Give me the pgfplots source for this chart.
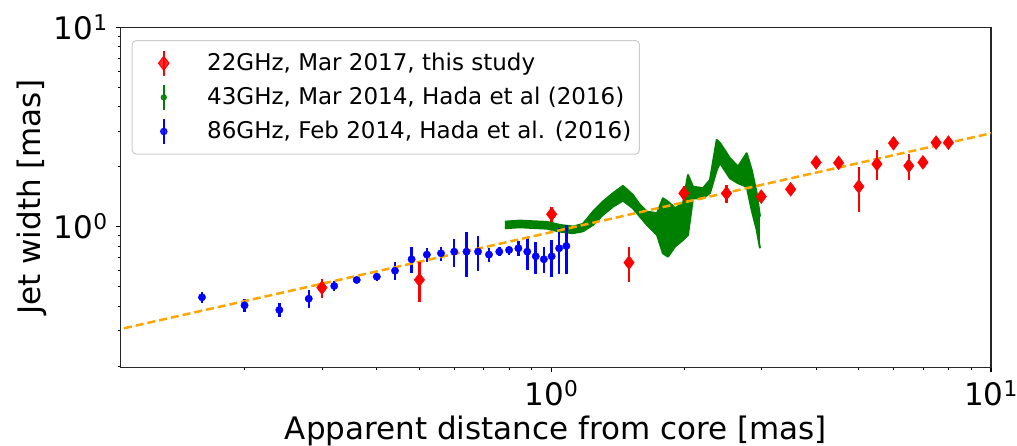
\documentclass[border=0pt]{standalone}
\usepackage{fontspec}
\setmainfont{DejaVu Sans}
\usepackage{pgfplots}
\pgfplotsset{compat=1.18}
\usepgfplotslibrary{fillbetween}
\usepackage{pgfplotstable}

\definecolor{mplred}{HTML}{FF0000}
\definecolor{mplblue}{HTML}{0000FF}
\definecolor{mplgreen}{HTML}{008000}
\definecolor{mplorange}{HTML}{FFA500}

% 22 GHz, this study
\pgfplotstableread{
x y e
0.3 0.494 0.055
0.5 0.541 0.12
1.0 1.154 0.10
1.5 0.660 0.13
2.0 1.47 0.13
2.5 1.47 0.15
3.0 1.415 0.07
3.5 1.54 0.07
4.0 2.10 0.10
4.5 2.09 0.09
5.0 1.59 0.40
5.5 2.06 0.35
6.0 2.62 0.12
6.5 2.02 0.30
7.0 2.10 0.10
7.5 2.64 0.12
8.0 2.64 0.09
}\redtab

% 86 GHz, Hada et al. (2016)
\pgfplotstableread{
x y e
0.16 0.442 0.03
0.20 0.403 0.03
0.24 0.382 0.03
0.28 0.435 0.045
0.32 0.504 0.03
0.36 0.540 0.02
0.40 0.561 0.025
0.44 0.601 0.06
0.48 0.686 0.10
0.52 0.724 0.06
0.56 0.735 0.06
0.60 0.749 0.12
0.64 0.749 0.19
0.68 0.749 0.15
0.72 0.724 0.06
0.76 0.749 0.04
0.80 0.764 0.04
0.84 0.779 0.07
0.88 0.749 0.14
0.92 0.710 0.13
0.96 0.686 0.10
1.00 0.710 0.15
1.04 0.779 0.20
1.08 0.800 0.22
}\bluetab

% 43 GHz, Hada et al. (2016): upper and lower edge of the band
\pgfplotstableread{
x up lo
0.783 1.059 0.982
0.847 1.072 0.993
0.906 1.064 0.985
0.976 1.056 0.977
1.044 1.020 0.944
1.118 1.000 0.927
1.178 1.032 0.948
1.242 1.189 1.020
1.308 1.335 1.145
1.379 1.471 1.260
1.453 1.600 1.351
1.531 1.442 1.237
1.589 1.285 1.122
1.648 1.189 1.020
1.737 1.167 0.909
1.792 1.388 0.735
1.840 1.335 0.707
1.909 1.237 0.794
1.991 1.310 0.858
2.043 1.817 0.909
2.097 1.587 1.388
2.210 1.558 1.388
2.293 1.715 1.476
2.375 2.723 1.925
2.416 2.630 2.087
2.546 2.204 1.749
2.656 2.000 1.651
2.779 2.335 1.587
2.853 1.925 1.213
2.929 1.471 0.963
2.980 1.122 0.779
}\greentab

% power-law fit
\pgfplotstableread{
x y
0.1 0.300
10 2.94
}\fittab

\begin{document}
\begin{tikzpicture}
\begin{axis}[
  scale only axis, width=870.3pt, height=340pt,
  xmode=log, ymode=log,
  xmin=0.1045, xmax=10, ymin=0.197, ymax=10,
  xtick={1,10}, xticklabels={10\textsuperscript{0},10\textsuperscript{1}},
  ytick={1,10}, yticklabels={10\textsuperscript{0},10\textsuperscript{1}},
  minor xtick={0.2,0.3,0.4,0.5,0.6,0.7,0.8,0.9,2,3,4,5,6,7,8,9},
  minor ytick={0.2,0.3,0.4,0.5,0.6,0.7,0.8,0.9,2,3,4,5,6,7,8,9},
  tick align=outside, tick pos=left,
  major tick length=4.9pt, minor tick length=2.8pt,
  major tick style={black, line width=1.1pt},
  minor tick style={black, line width=0.8pt},
  axis line style={line width=1.1pt, black!85},
  tick label style={font=\fontsize{31}{37}\selectfont, inner sep=0pt},
  xticklabel style={anchor=north, yshift=-8pt},
  yticklabel style={anchor=east, xshift=-8pt},
  label style={font=\fontsize{31}{37}\selectfont},
  xlabel={Apparent distance from core [mas]},
  ylabel={Jet width [mas]},
  xlabel style={at={(axis description cs:0.5,-0.2138)}, anchor=base},
  ylabel style={at={(axis description cs:-0.0927,0.5)}, anchor=base, rotate=0},
  legend cell align=left,
  legend style={at={(axis description cs:0.01264,0.9626)}, anchor=north west,
    draw=black!20, line width=1pt, rounded corners=4pt, fill=white, fill opacity=0.8, text opacity=1,
    inner xsep=8pt, inner ysep=9pt, row sep=6.6pt,
    font=\fontsize{23}{27}\selectfont,
    nodes={inner sep=0pt, text height=19.3pt, text depth=5pt}},
]
% 43 GHz band
\addplot[name path=gup, draw=mplgreen, line width=2pt, line join=round, forget plot] table[x=x,y=up]{\greentab};
\addplot[name path=glo, draw=mplgreen, line width=2pt, line join=round, forget plot] table[x=x,y=lo]{\greentab};
\addplot[mplgreen, forget plot] fill between[of=gup and glo];
% 86 GHz
\addplot[only marks, mplblue, mark=*, mark size=3.7pt, forget plot,
  error bars/.cd, y dir=both, y explicit, error mark=none,
  error bar style={line width=2.5pt}]
  table[x=x, y=y, y error=e]{\bluetab};
% fit
\addplot[mplorange, line width=2.5pt, dash pattern=on 8pt off 4pt, forget plot] table[x=x,y=y]{\fittab};
% 22 GHz
\addplot[only marks, mplred, mark=diamond*, mark size=7pt, forget plot,
  error bars/.cd, y dir=both, y explicit, error mark=none,
  error bar style={line width=2.5pt}]
  table[x=x, y=y, y error=e]{\redtab};

\addlegendimage{only marks, mplred, mark=diamond*, mark size=7pt,
  legend image code/.code={
    \path[draw=none, fill=none] (0pt,-12.5pt) rectangle (67pt,12.5pt);
    \draw[line width=2.5pt, rounded corners=0pt] (23.6pt,-12.5pt) -- (23.6pt,12.5pt);
    \draw plot coordinates {(23.6pt,0pt)};}}
\addlegendentry{22GHz, Mar 2017, this study}
\addlegendimage{only marks, mplgreen, mark=*, mark size=2.6pt,
  legend image code/.code={
    \path[draw=none, fill=none] (0pt,-12.5pt) rectangle (67pt,12.5pt);
    \draw[line width=2.5pt, rounded corners=0pt] (23.6pt,-12.5pt) -- (23.6pt,12.5pt);
    \draw plot coordinates {(23.6pt,0pt)};}}
\addlegendentry{43GHz, Mar 2014, Hada et al (2016)}
\addlegendimage{only marks, mplblue, mark=*, mark size=3.2pt,
  legend image code/.code={
    \path[draw=none, fill=none] (0pt,-12.5pt) rectangle (67pt,12.5pt);
    \draw[line width=2.5pt, rounded corners=0pt] (23.6pt,-12.5pt) -- (23.6pt,12.5pt);
    \draw plot coordinates {(23.6pt,0pt)};}}
\addlegendentry{86GHz, Feb 2014, Hada et al. (2016)}
\end{axis}
\pgfresetboundingbox
\path ([xshift=-120.7pt, yshift=-78.7pt]current axis.south west) rectangle ([xshift=26pt, yshift=27.3pt]current axis.north east);
\end{tikzpicture}
\end{document}
